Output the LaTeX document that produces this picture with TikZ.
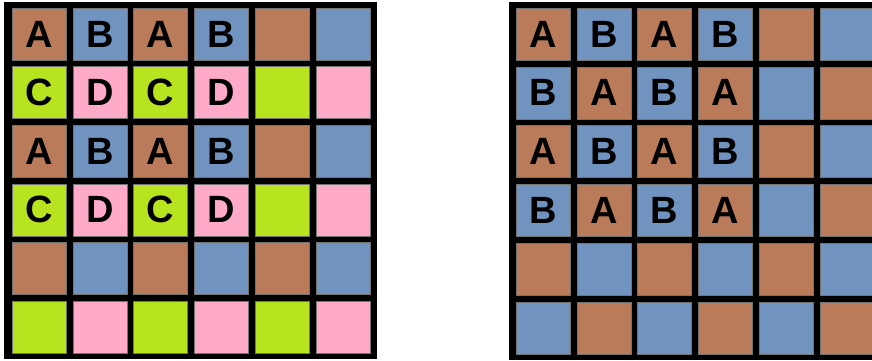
\documentclass[tikz,border=0pt]{standalone}
\usepackage{fontspec}
\setmainfont{Liberation Sans}
\usepackage{xcolor}
\definecolor{tileBrown}{RGB}{186,123,90}
\definecolor{tileBlue}{RGB}{112,147,191}
\definecolor{tileLime}{RGB}{183,228,30}
\definecolor{tilePink}{RGB}{255,170,200}

\begin{document}
\begin{tikzpicture}[x=1pt, y=-1pt,
    tile/.style={draw=black!55, line width=0.4pt},
    letter/.style={font=\fontsize{38}{38}\bfseries\selectfont, inner sep=0pt}]
  \useasboundingbox (0,0) rectangle (872,361);
  % left board: A B / C D repeated
  \fill[black] (4,2) rectangle (377,359);
  \foreach \j/\ca/\cb in {0/tileBrown/tileBlue, 1/tileLime/tilePink,
      2/tileBrown/tileBlue, 3/tileLime/tilePink,
      4/tileBrown/tileBlue, 5/tileLime/tilePink} {
    \foreach \i in {0,...,5} {
      \ifodd\i \def\tc{\cb}\else\def\tc{\ca}\fi
      \filldraw[tile, fill=\tc] (12+60.8*\i, 8+58.6*\j) rectangle ++(54,52);
    }
  }
  \foreach \j/\la/\lb in {0/A/B, 1/C/D, 2/A/B, 3/C/D} {
    \foreach \i in {0,...,3} {
      \ifodd\i \def\lt{\lb}\else\def\lt{\la}\fi
      \node[letter] (L-\i-\j) at (39+60.8*\i, 34+58.6*\j) {\lt};
    }
  }
  % right board: checkerboard A / B
  \begin{scope}
    \clip (0,0) rectangle (872,361);
    \fill[black] (509,2) rectangle (890,360);
    \foreach \j in {0,...,5} {
      \foreach \i in {0,...,5} {
        \pgfmathtruncatemacro\tileodd{mod(\i+\j,2)}
        \ifnum\tileodd=0 \def\tc{tileBrown}\else\def\tc{tileBlue}\fi
        \filldraw[tile, fill=\tc] (516+60.8*\i, 8+58.8*\j) rectangle ++(54,52);
      }
    }
  \end{scope}
  \foreach \j in {0,...,3} {
    \foreach \i in {0,...,3} {
      \pgfmathtruncatemacro\tileodd{mod(\i+\j,2)}
      \ifnum\tileodd=0 \def\lt{A}\else\def\lt{B}\fi
      \node[letter] (R-\i-\j) at (543+60.8*\i, 34+58.8*\j) {\lt};
    }
  }
\end{tikzpicture}
\end{document}
